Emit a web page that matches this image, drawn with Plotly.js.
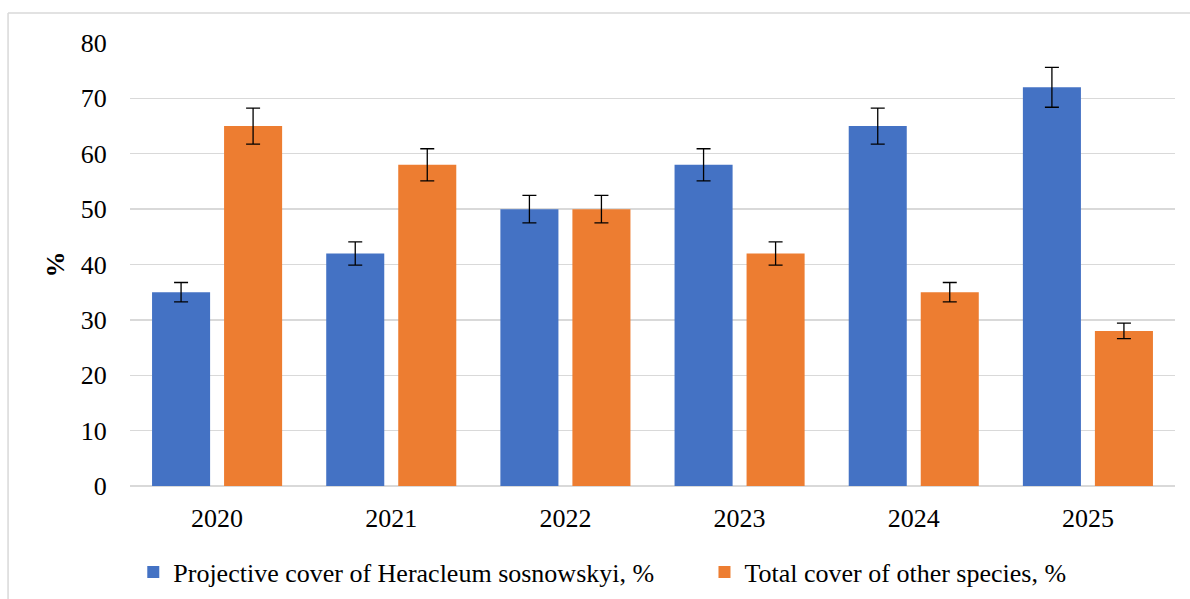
<!DOCTYPE html>
<html>
<head>
<meta charset="utf-8">
<script src="https://cdn.plot.ly/plotly-3.0.1.min.js"></script>
<style>html,body{margin:0;padding:0;background:#fff;}#chart{width:1190px;height:599px;}</style>
</head>
<body>
<div id="chart"></div>
<script>
const years = ['2020', '2021', '2022', '2023', '2024', '2025'];
const heracleum = [35, 42, 50, 58, 65, 72];
const heracleumErr = [1.75, 2.1, 2.5, 2.9, 3.25, 3.6];
const others = [65, 58, 50, 42, 35, 28];
const othersErr = [3.25, 2.9, 2.5, 2.1, 1.75, 1.4];
const seriesNames = ['Projective cover of Heracleum sosnowskyi, %', 'Total cover of other species, %'];
const yTicks = [0, 10, 20, 30, 40, 50, 60, 70, 80];

const FONT = '"Times New Roman", "Liberation Serif", "DejaVu Serif", serif';
const errStyle = {type: 'data', visible: true, color: '#000000', thickness: 1.3, width: 7};

const traces = [
  {type: 'bar', name: seriesNames[0], x: years, y: heracleum, legend: 'legend',
   marker: {color: '#4472C4'},
   error_y: Object.assign({array: heracleumErr}, errStyle)},
  {type: 'bar', name: seriesNames[1], x: years, y: others, legend: 'legend2',
   marker: {color: '#ED7D31'},
   error_y: Object.assign({array: othersErr}, errStyle)}
];

const legendBase = {orientation: 'h', xanchor: 'left', xref: 'container',
  y: 0.045, yanchor: 'middle', yref: 'container',
  font: {family: FONT, size: 26, color: '#000000'}, itemwidth: 30};

const layout = {
  width: 1190, height: 599,
  margin: {l: 130, r: 15, t: 43, b: 113},
  paper_bgcolor: '#ffffff', plot_bgcolor: '#ffffff',
  font: {family: FONT, size: 26, color: '#000000'},
  barmode: 'group', bargap: 0.173, bargroupgap: 0.194,
  showlegend: true,
  legend: Object.assign({x: 0.112}, legendBase),
  legend2: Object.assign({x: 0.592}, legendBase),
  xaxis: {type: 'category', showgrid: false, zeroline: false, showline: false, automargin: false,
          ticks: 'outside', ticklen: 9, tickcolor: 'rgba(0,0,0,0)',
          tickfont: {family: FONT, size: 26}},
  yaxis: {range: [0, 80], tickvals: yTicks, showgrid: true, gridcolor: '#d9d9d9', gridwidth: 1.3,
          zeroline: true, zerolinecolor: '#d9d9d9', zerolinewidth: 1.3, showline: false, automargin: false,
          ticks: 'outside', ticklen: 17, tickcolor: 'rgba(0,0,0,0)',
          tickfont: {family: FONT, size: 26},
          title: {text: '<b>%</b>', font: {family: FONT, size: 26}, standoff: 8}},
  shapes: [
    {type: 'line', xref: 'paper', yref: 'paper', x0: -0.1167, x1: 1.03, y0: 1.0677, y1: 1.0677,
     line: {color: '#d9d9d9', width: 1.5}},
    {type: 'line', xref: 'paper', yref: 'paper', x0: -0.1167, x1: -0.1167, y0: 1.0677, y1: -0.27,
     line: {color: '#d9d9d9', width: 1.5}}
  ]
};

Plotly.newPlot('chart', traces, layout, {displayModeBar: false, staticPlot: true});
</script>
</body>
</html>
